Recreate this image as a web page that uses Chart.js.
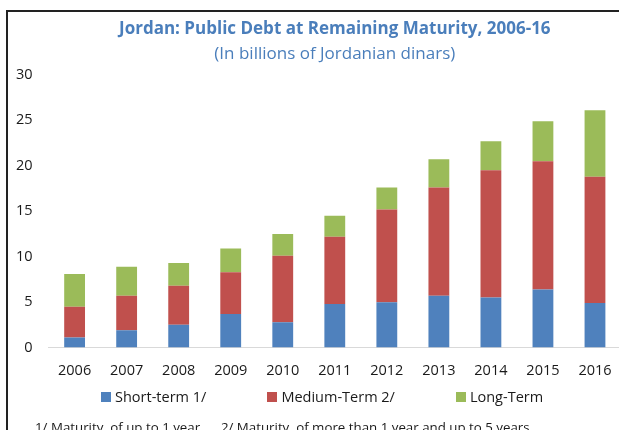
<!DOCTYPE html>
<html>
<head>
<meta charset="utf-8">
<script src="https://cdn.jsdelivr.net/npm/chart.js@4/dist/chart.umd.min.js"></script>
<style>
  html, body { margin: 0; padding: 0; background: #fff; overflow: hidden; }
  #wrap { position: relative; width: 619px; height: 430px; overflow: hidden; font-family: "Open Sans", sans-serif; }
  #frame { position: absolute; left: 6px; top: 10px; width: 700px; height: 500px;
           border-left: 2px solid #222; border-top: 2px solid #222; }
  #chart { position: absolute; left: 0; top: 0; }
  #legend { position: absolute; left: 101px; top: 387px; display: flex; font-size: 14.5px; color: #1a1a1a; }
  .item { display: flex; align-items: center; margin-right: 61px; white-space: nowrap; }
  .box { width: 10px; height: 10px; margin-right: 4px; }
  #note { position: absolute; left: 35px; top: 418px; font-size: 13.3px; color: #1a1a1a; white-space: pre; }
</style>
</head>
<body>
<div id="wrap">
  <div id="frame"></div>
  <canvas id="chart" width="640" height="430"></canvas>
  <div id="legend"></div>
  <div id="note">1/ Maturity  of up to 1 year.     2/ Maturity  of more than 1 year and up to 5 years.</div>
</div>
<script>
// Jordan public debt by remaining maturity (JD billions)

const years = ['2006', '2007', '2008', '2009', '2010', '2011', '2012', '2013', '2014', '2015', '2016'];
const shortTerm = [1.1, 1.9, 2.5, 3.7, 2.8, 4.8, 5.0, 5.7, 5.5, 6.4, 4.9];
const mediumTerm = [3.4, 3.8, 4.3, 4.6, 7.3, 7.4, 10.2, 11.9, 14.0, 14.1, 13.9];
const longTerm = [3.6, 3.2, 2.5, 2.6, 2.4, 2.3, 2.4, 3.1, 3.2, 4.4, 7.3];
const yMax = 30;
const yStep = 5;

const seriesNames = ['Short-term 1/', 'Medium-Term 2/', 'Long-Term'];
const seriesColors = ['#4F81BD', '#C0504D', '#9BBB59'];

const textColor = '#1a1a1a';
const titleColor = '#4A7EBB';

const ctx = document.getElementById('chart');

const chart = new Chart(ctx, {
  type: 'bar',
  data: {
    labels: years,
    datasets: [shortTerm, mediumTerm, longTerm].map((values, i) => ({
      label: seriesNames[i],
      data: values,
      backgroundColor: seriesColors[i],
      borderWidth: 0,
      categoryPercentage: 0.8,
      barPercentage: 0.5,
    }))
  },
  options: {
    responsive: false,
    devicePixelRatio: 1,
    animation: false,
    layout: {
      padding: { left: 0, right: 19, top: 0, bottom: 35 }
    },
    plugins: {
      legend: { display: false },
      tooltip: { enabled: false },
      title: {
        display: true,
        fullSize: false,
        text: 'Jordan: Public Debt at Remaining Maturity, 2006-16',
        color: titleColor,
        font: { family: 'Open Sans', size: 17, weight: 'bold' },
        padding: { top: 19, bottom: 0 }
      },
      subtitle: {
        display: true,
        fullSize: false,
        text: '(In billions of Jordanian dinars)',
        color: titleColor,
        font: { family: 'Open Sans', size: 17 },
        padding: { top: 5, bottom: 10 }
      }
    },
    scales: {
      x: {
        stacked: true,
        grid: { display: false, drawTicks: false },
        border: { display: true, color: '#d9d9d9', width: 1 },
        ticks: {
          color: textColor,
          padding: 15,
          font: { family: 'Open Sans', size: 14.5 }
        }
      },
      y: {
        stacked: true,
        min: 0,
        max: yMax,
        grid: { display: false, drawTicks: false },
        border: { display: false },
        ticks: {
          stepSize: yStep,
          color: textColor,
          padding: 16,
          font: { family: 'Open Sans', size: 14.5 }
        }
      }
    }
  }
});

// HTML legend built from the series arrays
document.getElementById('legend').innerHTML = seriesNames.map((name, i) => `
  <div class="item"><span class="box" style="background:${seriesColors[i]}"></span>${name}</div>
`).join('');
</script>
</body>
</html>
